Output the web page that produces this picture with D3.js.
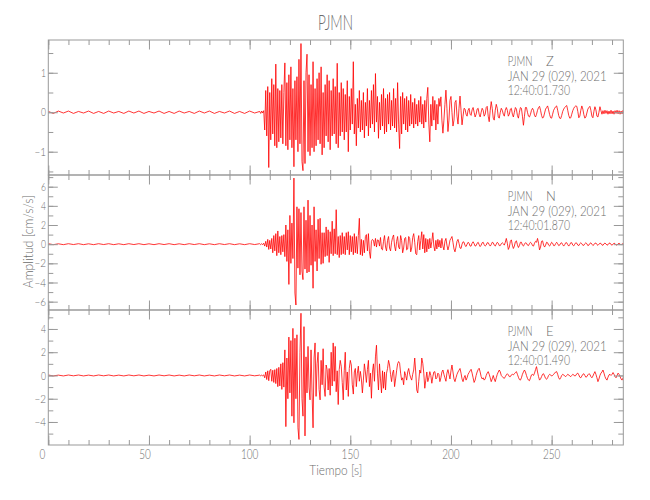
<!DOCTYPE html>
<html>
<head>
<meta charset="utf-8">
<script src="https://cdn.jsdelivr.net/npm/d3@7"></script>
<style>
  html, body { margin: 0; padding: 0; background: #fff; }
  svg { display: block; }
  text { font-family: "Lato", "Liberation Sans Narrow", "DejaVu Sans Condensed", sans-serif; font-weight: 300; fill: #6c6c6c; }
</style>
</head>
<body>
<svg id="chart" width="650" height="500"></svg>
<script>
// ---------------- data ----------------
const station = "PJMN";
const components = ["Z", "N", "E"];
const dateLabel = "JAN 29 (029), 2021";
const startTimes = ["12:40:01.730", "12:40:01.870", "12:40:01.490"];
const xTitle = "Tiempo [s]";
const yTitle = "Amplitud [cm/s/s]";

const xDomain = [0, 285.6];
const xTicks = [0, 50, 100, 150, 200, 250];
const xMinorTicks = d3.range(0, 290, 10);

const zDomain = [-1.59, 1.83];
const nDomain = [-6.87, 7.22];
const eDomain = [-5.98, 5.63];
const zTicks = [-1, 0, 1];
const nTicks = [-6, -4, -2, 0, 2, 4, 6];
const eTicks = [-4, -2, 0, 2, 4];
const zMinor = [-1.5, -1, -0.5, 0, 0.5, 1, 1.5];
const nMinor = [-6, -5, -4, -3, -2, -1, 0, 1, 2, 3, 4, 5, 6, 7];
const eMinor = [-5, -4, -3, -2, -1, 0, 1, 2, 3, 4, 5];

// pre-event noise, one sample every 2.5 s from t = 0
const quietStep = 2.5;
const zQuiet = [0.02,-0.03,0.03,-0.02,0.03,-0.03,0.02,-0.02,0.03,-0.03,0.02,-0.03,0.03,-0.02,0.02,-0.03,0.03,-0.02,0.03,-0.03,0.02,-0.02,0.03,-0.03,0.02,-0.03,0.03,-0.02,0.02,-0.03,0.03,-0.02,0.03,-0.03,0.02,-0.02,0.03,-0.03,0.02,-0.03,0.03,-0.02];
const nQuiet = [0.05,-0.05,0.04,-0.05,0.05,-0.04,0.05,-0.05,0.04,-0.05,0.05,-0.04,0.05,-0.05,0.04,-0.05,0.05,-0.04,0.05,-0.05,0.04,-0.05,0.05,-0.04,0.05,-0.05,0.04,-0.05,0.05,-0.04,0.05,-0.05,0.04,-0.05,0.05,-0.04,0.05,-0.05,0.04,-0.05,0.05,-0.04];
const eQuiet = [0.04,-0.04,0.03,-0.04,0.04,-0.03,0.04,-0.04,0.03,-0.04,0.04,-0.03,0.04,-0.04,0.03,-0.04,0.04,-0.03,0.04,-0.04,0.03,-0.04,0.04,-0.03,0.04,-0.04,0.03,-0.04,0.04,-0.03,0.04,-0.04,0.03,-0.04,0.04,-0.03,0.04,-0.04,0.03,-0.04,0.04,-0.03];

// event samples, one every 0.5 s from t = 105 s (each row = 5 s)
const activeStart = 105;
const activeStep = 0.5;
const zActive = [
  0.02,-0.03,0.03,-0.02,0.04,-0.45,0.55,-0.6,0.65,-1.40,
  0.5,-0.7,0.85,-0.55,0.7,-0.85,1.22,-0.9,0.6,-0.75,
  0.55,-0.65,0.7,-0.8,0.5,1.25,-0.85,0.75,-0.95,0.95,
  -0.7,1.15,-0.9,0.6,-1.38,0.8,-0.7,0.9,-1.0,1.34,
  -0.8,1.74,-1.25,-1.48,0.8,-1.3,1.0,1.47,-1.0,0.95,
  -1.1,0.7,-0.9,1.28,-1.0,0.6,-0.85,0.85,-0.7,1.0,
  -0.8,1.15,-1.08,0.5,-0.9,0.7,-0.6,0.95,-0.75,0.8,
  -0.95,0.55,-0.6,0.85,-0.55,0.65,-0.8,1.24,-0.9,0.5,
  -0.6,0.75,-0.5,0.6,-0.7,0.45,-0.5,0.8,-1.0,0.4,
  -0.45,0.6,-0.3,1.28,-0.55,0.2,-0.85,0.35,-0.4,0.55,
  -0.5,0.3,-0.45,0.5,-0.65,0.25,-0.35,0.6,-0.6,0.3,
  -0.4,0.55,-0.3,0.7,-0.5,0.98,-0.25,0.4,-0.66,0.25,
  -0.45,0.45,-0.35,0.6,-0.55,0.35,-0.5,0.45,-0.3,0.5,
  -0.45,0.3,-0.35,0.6,-0.4,0.35,-0.5,0.75,-0.3,-0.92,
  0.4,-0.55,0.5,-0.3,0.35,-0.45,0.4,-0.5,0.3,-0.35,
  0.45,-0.3,0.25,-0.4,0.35,-0.3,0.2,-0.35,0.3,-0.25,
  0.4,-0.3,0.2,-0.4,0.3,-0.25,0.35,0.63,-0.3,-0.75,
  0.2,-0.35,0.4,-0.2,0.3,-0.45,0.2,-0.3,0.35,0.15,
  0.39,-0.2,-0.53,-0.2,0.2,0.56,0.1,-0.49,-0.2,0.3,
  0.4,0.0,-0.35,-0.2,0.25,0.3,-0.1,-0.3,0.1,0.41,
  0.05,-0.32,-0.1,0.1,0.08,-0.05,-0.1,0.05,0.1,-0.05,
  -0.08,0.06,0.12,0.0,-0.12,-0.05,0.08,0.1,-0.05,-0.12,
  0.0,0.1,0.05,-0.1,-0.05,0.12,0.15,-0.1,-0.24,0.05,
  0.27,0.1,-0.15,-0.2,0.05,0.2,0.1,-0.12,-0.15,0.0,
  0.1,0.05,-0.05,-0.1,0.05,0.12,0.05,-0.1,-0.05,0.08,
  0.1,-0.05,-0.12,0.0,0.12,0.08,-0.08,-0.15,0.0,0.12,
  0.1,-0.1,-0.33,-0.1,0.12,0.12,0.0,-0.1,-0.12,-0.05,
  0.05,0.1,0.05,-0.08,-0.12,-0.05,0.05,0.12,0.15,0.05,
  -0.08,-0.15,-0.12,-0.02,0.08,0.12,0.16,0.06,-0.06,-0.14,
  -0.15,-0.05,0.05,0.1,0.14,0.16,0.05,-0.08,-0.15,-0.16,
  -0.08,0.02,0.08,0.12,0.15,0.17,0.05,-0.08,-0.15,-0.14,
  -0.05,0.04,0.1,0.14,0.16,0.15,0.02,-0.14,-0.1,0.05,
  0.16,0.08,-0.06,-0.15,-0.12,-0.02,0.08,0.12,0.15,0.05,
  -0.1,-0.14,0.02,0.14,0.06,-0.1,-0.12,0.0,0.14,0.04,
  -0.05,0.04,-0.04,0.05,-0.03,0.04,-0.05,0.03,-0.04,0.05,
  -0.04,0.03,-0.05,0.04,-0.03,0.05,-0.04,0.04,-0.05,0.03,
  -0.04,0.05,-0.03
];
const nActive = [
  0.05,-0.05,0.05,-0.05,0.1,-0.2,0.3,-0.3,0.5,-0.55,
  0.4,-0.5,0.6,-0.9,0.9,-0.7,1.1,-1.2,1.38,-0.9,
  0.8,-1.1,0.9,-0.8,1.0,-1.3,2.0,-1.8,1.5,-4.2,
  3.0,-2.0,2.2,-1.5,6.9,-5.1,-6.35,3.9,-2.5,3.7,
  -3.2,3.3,-2.8,-3.7,3.9,-2.6,2.5,-3.0,4.6,-2.9,
  3.0,-2.2,2.0,-4.6,3.9,-1.8,1.5,-2.8,2.6,-1.5,
  2.7,-2.1,1.2,-2.0,1.2,-1.3,1.8,-1.2,1.5,-1.9,
  1.3,-1.0,2.4,-1.2,1.6,-1.0,3.6,-1.1,0.8,-1.4,
  0.9,-1.1,1.2,-1.0,0.8,-1.1,1.2,-0.6,1.3,-1.1,
  0.9,-0.8,0.8,-1.1,1.1,-0.9,0.8,-1.0,0.9,2.7,
  -1.1,0.5,-1.2,0.4,-0.9,0.8,1.0,-0.7,1.1,-0.8,
  -1.48,0.3,0.5,0.4,-0.2,0.6,-0.3,0.45,0.4,-0.2,
  0.7,-0.5,-0.6,0.3,0.9,-0.3,-0.7,0.4,0.8,-0.4,
  -0.7,0.2,0.7,0.96,-0.2,-0.7,0.3,0.8,-0.3,-0.5,
  0.9,0.4,-0.9,-0.4,0.6,0.7,-0.6,-0.5,0.8,0.6,
  -0.8,-0.4,0.7,1.1,0.2,-1.0,-1.1,0.3,0.9,-0.6,
  0.4,1.3,-0.5,1.0,-0.9,0.6,-0.8,0.5,-0.5,0.6,
  -0.4,0.3,1.2,-0.2,-0.7,0.4,-0.5,0.5,-0.3,0.4,
  -0.4,0.6,-0.2,-0.6,0.3,0.6,-0.1,-0.6,-0.2,0.4,
  0.6,0.8,0.2,-0.5,-0.8,-0.3,0.3,0.5,0.1,-0.4,
  -0.45,0.0,0.25,0.2,-0.15,-0.25,0.0,0.2,0.1,-0.2,
  -0.2,0.1,0.25,0.05,-0.2,-0.15,0.1,0.2,-0.05,-0.25,
  -0.1,0.15,0.2,-0.05,-0.2,-0.1,0.15,0.15,-0.05,-0.2,
  -0.05,0.2,0.15,-0.1,-0.2,0.0,0.2,0.1,-0.15,-0.15,
  0.05,0.15,0.05,-0.1,0.2,0.6,0.1,-0.55,-0.3,0.3,
  0.45,-0.1,-0.45,-0.2,0.25,0.35,-0.05,-0.35,-0.15,0.2,
  0.2,-0.1,-0.2,0.0,0.15,0.1,-0.1,-0.15,0.05,0.2,
  0.1,-0.15,-0.2,0.1,0.3,0.2,0.6,0.1,-0.6,-0.3,
  0.3,0.35,-0.1,-0.3,-0.1,0.2,0.15,-0.1,-0.2,0.0,
  0.2,0.1,-0.15,-0.15,0.05,0.2,0.05,-0.15,-0.1,0.1,
  0.15,-0.05,-0.2,-0.05,0.15,0.15,-0.05,-0.2,-0.05,0.15,
  0.15,-0.1,-0.18,0.0,0.15,0.1,-0.1,-0.15,0.05,0.15,
  0.05,-0.12,-0.12,0.05,0.15,0.05,-0.15,-0.1,0.08,0.14,
  0.0,-0.14,-0.06,0.1,0.12,-0.04,-0.12,0.0,0.1,0.08,
  -0.08,-0.12,0.04,0.12,0.02,-0.1,-0.06,0.1,0.12,-0.05,
  -0.1,0.0,0.1,0.06,-0.08,-0.1,0.04,0.1,0.0,-0.06,
  0.02,0.05,-0.02
];
const eActive = [
  0.03,-0.03,0.03,-0.03,0.05,-0.2,0.3,-0.35,0.4,-0.45,
  0.4,0.53,-0.5,0.45,-0.6,0.5,-0.7,0.6,-0.96,0.7,
  -0.9,1.0,-1.2,1.1,-1.0,2.2,-4.4,1.5,-2.0,3.3,
  -1.5,3.0,-3.5,4.05,-4.07,3.2,-2.0,3.5,-4.5,-5.5,
  2.0,5.35,-2.0,-3.5,4.2,-5.2,1.6,-1.5,2.5,-1.0,
  -2.1,2.2,-1.5,-4.5,1.5,2.8,-1.8,1.0,2.0,-1.2,
  -2.1,1.3,-0.8,2.3,-1.0,-1.8,0.9,0.5,-1.25,0.6,
  -1.7,2.0,-0.9,2.8,-0.5,2.5,-1.4,0.4,-2.5,0.5,
  1.3,0.8,-0.6,-2.1,0.4,2.0,-1.25,0.3,-1.8,0.6,
  1.3,0.9,-0.8,-1.6,0.3,0.6,-0.96,0.2,0.8,-0.5,
  0.35,-0.3,-1.5,-0.4,1.0,0.3,-0.6,0.5,1.3,-0.96,
  0.2,-1.96,0.3,1.0,-0.5,1.6,2.6,0.2,-1.25,1.0,
  -0.3,-1.5,0.4,-1.1,0.3,-1.25,0.2,0.6,1.3,0.9,
  0.1,-0.53,0.2,0.47,-0.96,-0.3,0.4,1.0,1.2,1.05,
  0.2,-0.4,-0.2,-0.8,0.33,0.0,-0.4,0.3,0.6,0.1,
  -0.2,-0.4,0.1,0.47,1.5,0.3,-1.25,-1.5,-0.5,0.47,
  0.2,1.5,1.05,0.2,-1.1,-0.4,0.3,-0.53,-0.2,0.33,
  0.0,-0.67,-0.1,0.3,0.33,-0.3,-0.2,0.2,0.1,-0.53,
  -0.2,0.3,0.47,0.1,-0.2,-0.5,0.2,0.5,0.1,-0.3,
  0.4,0.9,0.3,-0.3,-0.53,-0.2,0.1,0.3,0.45,0.6,
  0.2,-0.3,-0.53,-0.2,0.0,-0.4,-0.2,0.1,0.25,0.4,
  0.53,0.2,-0.2,-0.6,-0.4,0.0,0.3,0.5,0.62,0.3,
  -0.1,-0.3,-0.2,-0.4,-0.3,0.0,0.2,0.33,0.1,-0.2,
  -0.53,-0.3,0.0,-0.3,-0.53,-0.2,0.1,0.3,0.47,0.3,
  0.0,-0.1,-0.2,-0.25,-0.1,0.05,0.15,0.05,-0.1,-0.1,
  0.05,0.1,0.05,0.15,0.25,0.33,0.1,-0.15,-0.35,-0.4,
  -0.2,0.1,0.3,0.47,0.3,0.0,-0.25,-0.4,-0.45,-0.2,
  0.05,0.1,0.0,0.2,0.5,0.76,0.3,-0.1,-0.4,-0.3,
  -0.1,0.1,0.15,-0.05,-0.25,-0.33,-0.2,0.0,0.1,0.05,
  -0.05,0.0,0.1,0.2,0.3,0.33,0.1,-0.2,-0.33,-0.2,
  0.0,0.1,0.05,-0.05,-0.1,0.0,0.1,0.05,-0.05,-0.1,
  0.0,0.1,0.05,-0.05,0.0,0.15,0.2,0.05,-0.15,-0.2,
  -0.05,0.1,0.15,0.0,-0.15,-0.1,0.05,0.15,0.1,-0.1,
  -0.2,-0.05,0.15,0.33,0.1,-0.2,-0.53,-0.3,0.0,0.2,
  0.3,0.47,0.2,-0.1,-0.3,-0.4,-0.15,0.05,0.1,0.0,
  0.1,0.25,0.1,-0.1,-0.2,0.0,0.2,0.1,-0.1,-0.3,
  -0.4,-0.2,-0.1
];

// ---------------- layout ----------------
const left = 48.3, right = 623.3;
const panelTops = [40, 175, 310];
const panelH = 135;
const axisColor = "#999999";
const waveColor = "#ff0000";

const panels = [
  { comp: components[0], time: startTimes[0], domain: zDomain, ticks: zTicks, minor: zMinor, quiet: zQuiet, active: zActive },
  { comp: components[1], time: startTimes[1], domain: nDomain, ticks: nTicks, minor: nMinor, quiet: nQuiet, active: nActive },
  { comp: components[2], time: startTimes[2], domain: eDomain, ticks: eTicks, minor: eMinor, quiet: eQuiet, active: eActive }
];

const svg = d3.select("#chart");
const x = d3.scaleLinear().domain(xDomain).range([left, right]);

function fmt(v) { return v < 0 ? "\u2212" + Math.abs(v) : String(v); }

panels.forEach((p, k) => {
  const top = panelTops[k], bottom = top + panelH;
  const y = d3.scaleLinear().domain(p.domain).range([bottom, top]);
  const g = svg.append("g");

  // waveform
  const pts = p.quiet.map((v, i) => [i * quietStep, v])
    .concat(p.active.map((v, i) => [activeStart + i * activeStep, v]));
  const clipId = "clip" + k;
  svg.append("clipPath").attr("id", clipId).append("rect")
    .attr("x", left).attr("y", top).attr("width", right - left).attr("height", panelH);
  g.append("path")
    .datum(pts)
    .attr("clip-path", `url(#${clipId})`)
    .attr("fill", "none")
    .attr("stroke", waveColor)
    .attr("stroke-width", 0.8)
    .attr("stroke-linejoin", "round")
    .attr("d", d3.line().x(d => x(d[0])).y(d => y(d[1])));

  // axes (ticks pointing inward)
  const styleAxis = sel => {
    sel.select(".domain").remove();
    sel.selectAll("line").attr("stroke", axisColor).attr("stroke-width", 1);
    sel.selectAll("text").remove();
  };
  g.append("g").attr("transform", `translate(0,${top})`)
    .call(d3.axisBottom(x).tickValues(xMinorTicks).tickSize(5).tickFormat("")).call(styleAxis);
  g.append("g").attr("transform", `translate(0,${top})`)
    .call(d3.axisBottom(x).tickValues(xTicks).tickSize(9.5).tickFormat("")).call(styleAxis);
  g.append("g").attr("transform", `translate(0,${bottom})`)
    .call(d3.axisTop(x).tickValues(xMinorTicks).tickSize(5).tickFormat("")).call(styleAxis);
  g.append("g").attr("transform", `translate(0,${bottom})`)
    .call(d3.axisTop(x).tickValues(xTicks).tickSize(9.5).tickFormat("")).call(styleAxis);
  g.append("g").attr("transform", `translate(${left},0)`)
    .call(d3.axisRight(y).tickValues(p.minor).tickSize(5).tickFormat("")).call(styleAxis);
  g.append("g").attr("transform", `translate(${left},0)`)
    .call(d3.axisRight(y).tickValues(p.ticks).tickSize(9.5).tickFormat("")).call(styleAxis);
  g.append("g").attr("transform", `translate(${right},0)`)
    .call(d3.axisLeft(y).tickValues(p.minor).tickSize(5).tickFormat("")).call(styleAxis);
  g.append("g").attr("transform", `translate(${right},0)`)
    .call(d3.axisLeft(y).tickValues(p.ticks).tickSize(9.5).tickFormat("")).call(styleAxis);

  // frame
  g.append("rect").attr("x", left).attr("y", top).attr("width", right - left).attr("height", panelH)
    .attr("fill", "none").attr("stroke", axisColor).attr("stroke-width", 1);

  // y tick labels
  g.selectAll(".ylab").data(p.ticks).join("text")
    .attr("x", 46).attr("y", d => y(d)).attr("dy", "0.36em")
    .attr("text-anchor", "end").attr("font-size", 11.5)
    .attr("textLength", d => 5 * String(Math.abs(d)).length + (d < 0 ? 6.5 : 0))
    .attr("lengthAdjust", "spacingAndGlyphs")
    .text(d => fmt(d));

  // annotation
  const ax = 507.7;
  g.append("text").attr("x", ax).attr("y", top + 26).attr("font-size", 13)
    .attr("textLength", 24.7).attr("lengthAdjust", "spacingAndGlyphs").text(station);
  g.append("text").attr("x", 546).attr("y", top + 26).attr("font-size", 13).text(p.comp);
  g.append("text").attr("x", ax).attr("y", top + 40.5).attr("font-size", 13)
    .attr("textLength", 99).attr("lengthAdjust", "spacingAndGlyphs").text(dateLabel);
  g.append("text").attr("x", ax).attr("y", top + 55).attr("font-size", 13)
    .attr("textLength", 62.3).attr("lengthAdjust", "spacingAndGlyphs").text(p.time);
});

// x tick labels
const lastBottom = panelTops[2] + panelH;
const labelShift = { 1: -6, 2: -4, 3: 0 };
svg.selectAll(".xlab").data(xTicks).join("text")
  .attr("x", d => x(d) + labelShift[String(d).length])
  .attr("y", lastBottom + 14)
  .attr("text-anchor", "middle").attr("font-size", 14)
  .attr("textLength", d => 5.8 * String(d).length).attr("lengthAdjust", "spacingAndGlyphs")
  .text(d => d);

// axis titles
svg.append("text").attr("x", 309.3).attr("y", 475).attr("font-size", 13.5)
  .attr("textLength", 53).attr("lengthAdjust", "spacingAndGlyphs").text(xTitle);
svg.append("text").attr("transform", "translate(33,241.7) rotate(-90)")
  .attr("x", -46.5).attr("y", 0).attr("font-size", 13.5)
  .attr("textLength", 93).attr("lengthAdjust", "spacingAndGlyphs").text(yTitle);

// title
svg.append("text").attr("x", 318).attr("y", 30).attr("font-size", 21)
  .attr("textLength", 35).attr("lengthAdjust", "spacingAndGlyphs").text(station);
</script>
</body>
</html>
